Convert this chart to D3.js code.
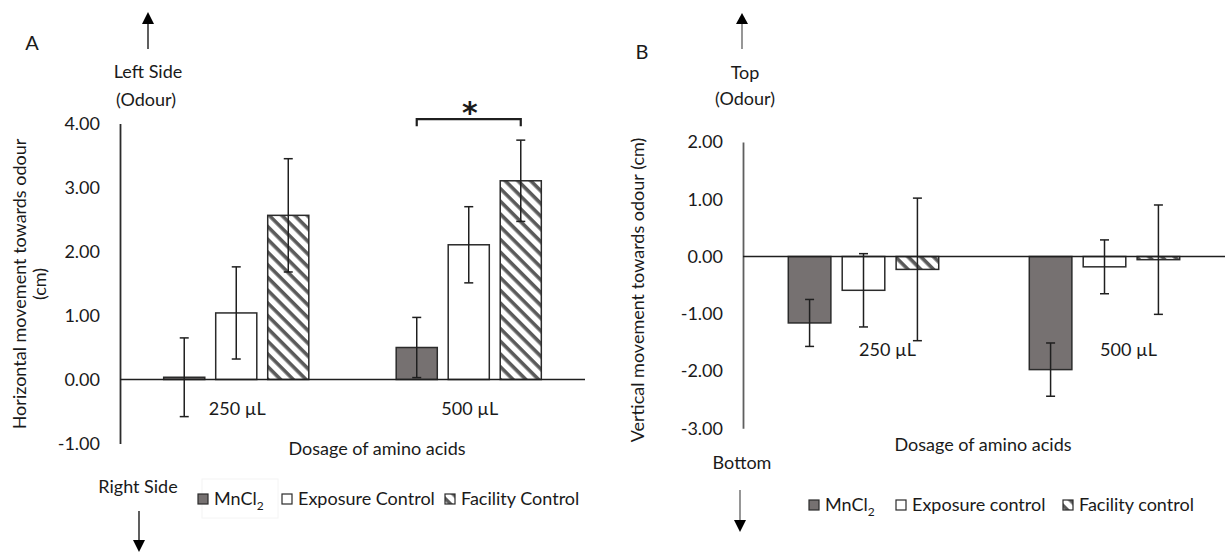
<!DOCTYPE html>
<html>
<head>
<meta charset="utf-8">
<script src="https://cdn.jsdelivr.net/npm/d3@7"></script>
<style>
  html, body { margin: 0; padding: 0; background: #fff; }
  svg { display: block; font-family: Lato, "Open Sans", sans-serif; }
  text { fill: #1a1a1a; }
</style>
</head>
<body>
<svg id="chart" width="1232" height="555"></svg>
<script>
// ---- data ----
const categories = ["250 µL", "500 µL"];
const seriesKeys = ["mn", "exp", "fac"];

// Panel A: horizontal movement towards odour (cm)
const hMnCl2 = [0.035, 0.50];
const hExposure = [1.04, 2.105];
const hFacility = [2.565, 3.105];
const hMnCl2Err = [0.615, 0.47];
const hExposureErr = [0.72, 0.595];
const hFacilityErr = [0.885, 0.635];
const hTicks = [-1, 0, 1, 2, 3, 4];
const hLegend = ["Exposure Control", "Facility Control"];

// Panel B: vertical movement towards odour (cm)
const vMnCl2 = [-1.16, -1.975];
const vExposure = [-0.59, -0.18];
const vFacility = [-0.225, -0.055];
const vMnCl2Err = [0.41, 0.465];
const vExposureErr = [0.64, 0.47];
const vFacilityErr = [1.245, 0.955];
const vTicks = [-3, -2, -1, 0, 1, 2];
const vLegend = ["Exposure control", "Facility control"];

// ---- drawing ----
const svg = d3.select("#chart");
const FONT = 18;

const defs = svg.append("defs");
const pat = defs.append("pattern")
  .attr("id", "hatch")
  .attr("patternUnits", "userSpaceOnUse")
  .attr("width", 9).attr("height", 9)
  .attr("patternTransform", "rotate(45)");
pat.append("rect").attr("width", 9).attr("height", 9).attr("fill", "#fff");
pat.append("rect").attr("x", 0).attr("y", 0).attr("width", 9).attr("height", 3.6).attr("fill", "#5a5a5a");

const fills = { mn: "#767171", exp: "#ffffff", fac: "url(#hatch)" };

function rows(m, e, f, me, ee, fe) {
  return categories.map((c, i) => ({
    cat: c,
    bars: [
      { key: "mn", v: m[i], err: me[i] },
      { key: "exp", v: e[i], err: ee[i] },
      { key: "fac", v: f[i], err: fe[i] }
    ]
  }));
}

function panel(opts) {
  const g = svg.append("g");
  const x = d3.scaleBand().domain(categories).range(opts.xRange).paddingInner(0).paddingOuter(0);
  const y = d3.scaleLinear().domain(opts.yDomain).range(opts.yRange);
  const inner = d3.scaleBand().domain(seriesKeys).range([0, x.bandwidth()])
    .paddingInner(0.21).paddingOuter(0.84);

  // value axis (line + tick labels, no tick marks)
  const yAxis = d3.axisLeft(y).tickValues(opts.ticks).tickSize(0).tickPadding(20)
    .tickFormat(d => d.toFixed(2));
  const ya = g.append("g").attr("transform", `translate(${opts.xRange[0]},0)`).call(yAxis);
  ya.select(".domain").attr("stroke", opts.axisColor).attr("stroke-width", 1.8);
  ya.selectAll("text").attr("font-size", FONT).attr("font-family", "Lato, sans-serif").attr("fill", "#1a1a1a");

  const data = opts.data;
  const grp = g.selectAll(".grp").data(data).join("g")
    .attr("transform", d => `translate(${x(d.cat)},0)`);

  grp.selectAll("rect.bar").data(d => d.bars).join("rect")
    .attr("class", "bar")
    .attr("x", d => inner(d.key))
    .attr("width", inner.bandwidth())
    .attr("y", d => y(Math.max(0, d.v)))
    .attr("height", d => Math.abs(y(d.v) - y(0)))
    .attr("fill", d => fills[d.key])
    .attr("stroke", "#2b2b2b").attr("stroke-width", 1.5);

  // category axis along zero
  g.append("line")
    .attr("x1", opts.xRange[0]).attr("x2", opts.xRange[1])
    .attr("y1", y(0)).attr("y2", y(0))
    .attr("stroke", "#1f1f1f").attr("stroke-width", 1.6);

  // error bars
  const eb = grp.selectAll("g.err").data(d => d.bars).join("g").attr("class", "err")
    .attr("transform", d => `translate(${inner(d.key) + inner.bandwidth() / 2},0)`);
  eb.append("line").attr("y1", d => y(d.v + d.err)).attr("y2", d => y(d.v - d.err))
    .attr("stroke", "#1f1f1f").attr("stroke-width", 1.5);
  [1, -1].forEach(s => {
    eb.append("line").attr("x1", -4.5).attr("x2", 4.5)
      .attr("y1", d => y(d.v + s * d.err)).attr("y2", d => y(d.v + s * d.err))
      .attr("stroke", "#1f1f1f").attr("stroke-width", 1.5);
  });

  // category labels
  g.selectAll("text.cat").data(categories).join("text")
    .attr("class", "cat")
    .attr("x", c => x(c) + x.bandwidth() / 2 + opts.catDx)
    .attr("y", opts.catY)
    .attr("dy", "0.35em")
    .attr("text-anchor", "middle").attr("font-size", FONT)
    .text(c => c);

  return { g, x, y, inner };
}

function arrow(x0, yTail, yBase, yTip, lineColor) {
  svg.append("line").attr("x1", x0).attr("x2", x0).attr("y1", yTail).attr("y2", yBase)
    .attr("stroke", lineColor).attr("stroke-width", 1.4);
  svg.append("path")
    .attr("d", `M${x0 - 6},${yBase} L${x0 + 6},${yBase} L${x0},${yTip} Z`)
    .attr("fill", "#000");
}

function label(x0, y0, txt, size) {
  return svg.append("text").attr("x", x0).attr("y", y0).attr("dy", "0.35em")
    .attr("text-anchor", "middle").attr("font-size", size || FONT).text(txt);
}

function legend(items, yc, boxes) {
  boxes.forEach(b => svg.append("rect").attr("x", b[0]).attr("y", yc - 20)
    .attr("width", b[1] - b[0]).attr("height", 39)
    .attr("fill", "none").attr("stroke", "#f4f4f4").attr("stroke-width", 1));
  items.forEach(it => {
    svg.append("rect").attr("x", it.x).attr("y", yc - 5).attr("width", 10).attr("height", 10)
      .attr("fill", fills[it.key]).attr("stroke", "#2b2b2b").attr("stroke-width", 1.2);
    const t = svg.append("text").attr("x", it.x + 16).attr("y", yc).attr("dy", "0.35em")
      .attr("font-size", FONT);
    if (it.key === "mn") {
      t.append("tspan").text("MnCl");
      t.append("tspan").attr("font-size", 12).attr("dy", "0.35em").text("2");
    } else {
      t.text(it.text);
    }
  });
}

// ---- Panel A ----
const A = panel({
  xRange: [120, 585], yDomain: [-1, 4], yRange: [443.5, 123.5],
  ticks: hTicks, axisColor: "#2b2b2b",
  data: rows(hMnCl2, hExposure, hFacility, hMnCl2Err, hExposureErr, hFacilityErr),
  catDx: 1, catY: 409
});

// significance bracket over the 500 µL group
{
  const c = categories[1];
  const xa = A.x(c) + A.inner("mn") + A.inner.bandwidth() / 2;
  const xb = A.x(c) + A.inner("fac") + A.inner.bandwidth() / 2;
  const top = A.y(hFacility[1] + hFacilityErr[1]) - 21;
  A.g.append("path")
    .attr("d", `M${xa},${top + 7} L${xa},${top} L${xb},${top} L${xb},${top + 7}`)
    .attr("fill", "none").attr("stroke", "#1f1f1f").attr("stroke-width", 2.2);
  A.g.append("text").attr("x", (xa + xb) / 2 + 1).attr("y", top + 4)
    .attr("text-anchor", "middle").attr("font-size", 30).attr("font-weight", "bold")
    .attr("font-family", "DejaVu Sans, sans-serif")
    .text("*");
}

label(32, 43, "A", 20);
arrow(148, 49, 24, 12, "#1a1a1a");
label(148, 72, "Left Side");
label(146, 100, "(Odour)");
label(138, 487, "Right Side");
arrow(139, 511, 540, 552, "#1a1a1a");

svg.append("text").attr("transform", "translate(20,284) rotate(-90)").attr("dy", "0.35em")
  .attr("text-anchor", "middle").attr("font-size", FONT).text("Horizontal movement towards odour");
svg.append("text").attr("transform", "translate(40,284) rotate(-90)").attr("dy", "0.35em")
  .attr("text-anchor", "middle").attr("font-size", FONT).text("(cm)");
label(377, 449, "Dosage of amino acids");

legend([
  { key: "mn", x: 198 },
  { key: "exp", x: 282, text: hLegend[0] },
  { key: "fac", x: 445, text: hLegend[1] }
], 499, [[202, 278]]);

// ---- Panel B ----
const B = panel({
  xRange: [743, 1225], yDomain: [-3, 2], yRange: [428.3, 142],
  ticks: vTicks, axisColor: "#5f5f5f",
  data: rows(vMnCl2, vExposure, vFacility, vMnCl2Err, vExposureErr, vFacilityErr),
  catDx: 24, catY: 350
});

label(642, 52, "B", 20);
arrow(742, 49, 24, 13, "#6a6a6a");
label(745, 73, "Top");
label(745, 99, "(Odour)");
label(742, 463, "Bottom");
arrow(740, 490, 520, 532, "#6a6a6a");

svg.append("text").attr("transform", "translate(638,290) rotate(-90)").attr("dy", "0.35em")
  .attr("text-anchor", "middle").attr("font-size", FONT).text("Vertical movement towards odour (cm)");
label(983, 445, "Dosage of amino acids");

legend([
  { key: "mn", x: 809 },
  { key: "exp", x: 896, text: vLegend[0] },
  { key: "fac", x: 1063, text: vLegend[1] }
], 505, []);
</script>
</body>
</html>
